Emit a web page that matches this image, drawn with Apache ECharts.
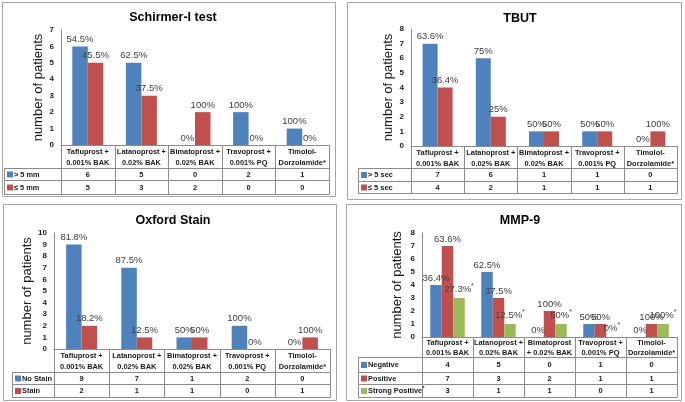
<!DOCTYPE html>
<html>
<head>
<meta charset="utf-8">
<script src="https://cdn.jsdelivr.net/npm/echarts@6/dist/echarts.min.js"></script>
<style>
html,body{margin:0;padding:0;background:#fff;}
#c{width:685px;height:402px;}
</style>
</head>
<body>
<div id="c"></div>
<script>
// ---------- DATA ----------
const categories = ['Tafluprost +\n0.001% BAK', 'Latanoprost +\n0.02% BAK', 'Bimatoprost +\n0.02% BAK', 'Travoprost +\n0.001% PQ', 'Timolol-\nDorzolamide*'];
const categoriesMMP = ['Tafluprost +\n0.001% BAK', 'Latanoprost +\n0.02% BAK', 'Bimatoprost\n+ 0.02% BAK', 'Travoprost +\n0.001% PQ', 'Timolol-\nDorzolamide*'];

const schirmerAbove = [6, 5, 0, 2, 1];
const schirmerBelow = [5, 3, 2, 0, 0];
const schirmerAbovePct = ['54.5%', '62.5%', '0%', '100%', '100%'];
const schirmerBelowPct = ['45.5%', '37.5%', '100%', '0%', '0%'];

const tbutAbove = [7, 6, 1, 1, 0];
const tbutBelow = [4, 2, 1, 1, 1];
const tbutAbovePct = ['63.6%', '75%', '50%', '50%', '0%'];
const tbutBelowPct = ['36.4%', '25%', '50%', '50%', '100%'];

const oxfordNoStain = [9, 7, 1, 2, 0];
const oxfordStain = [2, 1, 1, 0, 1];
const oxfordNoStainPct = ['81.8%', '87.5%', '50%', '100%', '0%'];
const oxfordStainPct = ['18.2%', '12.5%', '50%', '0%', '100%'];

const mmpNegative = [4, 5, 0, 1, 0];
const mmpPositive = [7, 3, 2, 1, 1];
const mmpStrong = [3, 1, 1, 0, 1];
const mmpNegativePct = ['36.4%', '62.5%', '0%', '50%', '0%'];
const mmpPositivePct = ['63.6%', '37.5%', '100%', '50%', '100%'];
const mmpStrongPct = ['27.3%', '12.5%', '50%', '0%', '100%'];

const yTicks1 = [0, 7, 1];
const yTicks2 = [0, 8, 1];
const yTicks3 = [0, 10, 1];
const yTicks4 = [0, 8, 1];

// ---------- STYLE / LAYOUT ----------
const BLUE = '#4F81BD', RED = '#C0504D', GREEN = '#9BBB59';
const FONT = '"Liberation Sans", Arial, sans-serif';
const LINE = '#8c8c8c';
const TFS = 7.4; // table font size

const panels = [
  { title: 'Schirmer-I test', titleXY: [168, 14], cats: categories, ticks: yTicks1,
    grid: { left: 61, top: 30, width: 268, height: 115 }, rows: [168, 180, 194], legendLeft: 4,
    box: [2, 2, 333, 194], barWidth: 15.5, nameGap: 16, headerLH: 11,
    series: [
      { name: '> 5 mm', data: schirmerAbove, pct: schirmerAbovePct, color: BLUE },
      { name: '\u2264 5 mm', data: schirmerBelow, pct: schirmerBelowPct, color: RED }
    ] },
  { title: 'TBUT', titleXY: [515, 15], cats: categories, ticks: yTicks2,
    grid: { left: 411, top: 29, width: 266, height: 117 }, rows: [168, 181, 193], legendLeft: 358,
    box: [347, 2, 334, 197], barWidth: 15, nameGap: 16, headerLH: 11,
    series: [
      { name: '> 5 sec', data: tbutAbove, pct: tbutAbovePct, color: BLUE },
      { name: '\u2264 5 sec', data: tbutBelow, pct: tbutBelowPct, color: RED }
    ] },
  { title: 'Oxford Stain', titleXY: [168, 217], cats: categories, ticks: yTicks3,
    grid: { left: 54, top: 233, width: 276, height: 116 }, rows: [372, 384, 397], legendLeft: 12,
    box: [3, 204, 333, 196], barWidth: 15.5, nameGap: 17, headerLH: 11,
    series: [
      { name: 'No Stain', data: oxfordNoStain, pct: oxfordNoStainPct, color: BLUE },
      { name: 'Stain', data: oxfordStain, pct: oxfordStainPct, color: RED }
    ] },
  { title: 'MMP-9', titleXY: [515, 217], cats: categoriesMMP, ticks: yTicks4,
    grid: { left: 422, top: 233, width: 255, height: 104 }, rows: [357, 372, 384, 397], legendLeft: 358,
    box: [346, 204, 335, 196], barWidth: 11.5, nameGap: 18, headerLH: 10,
    series: [
      { name: 'Negative', data: mmpNegative, pct: mmpNegativePct, color: BLUE },
      { name: 'Positive', data: mmpPositive, pct: mmpPositivePct, color: RED },
      { name: 'Strong Positive', data: mmpStrong, pct: mmpStrongPct, color: GREEN, star: true }
    ] }
];

const option = {
  animation: false,
  backgroundColor: '#fff',
  title: [], grid: [], xAxis: [], yAxis: [], series: [], graphic: []
};

panels.forEach((p, k) => {
  const g = p.grid;
  option.title.push({
    text: p.title, left: p.titleXY[0], top: p.titleXY[1] - 8, textAlign: 'center',
    textStyle: { fontFamily: FONT, fontSize: 12.5, fontWeight: 'bold', color: '#000' }
  });
  option.grid.push({ left: g.left, top: g.top, width: g.width, height: g.height, containLabel: false });
  option.xAxis.push({
    type: 'category', gridIndex: k, data: p.cats,
    axisLine: { show: true, lineStyle: { color: LINE, width: 1 } },
    axisTick: { show: false },
    axisLabel: { interval: 0, fontFamily: FONT, fontSize: TFS, fontWeight: 'bold', color: '#1a1a1a',
      lineHeight: p.headerLH, margin: 1, verticalAlign: 'top' }
  });
  option.yAxis.push({
    type: 'value', gridIndex: k, min: p.ticks[0], max: p.ticks[1], interval: p.ticks[2],
    name: 'number of patients', nameLocation: 'middle', nameGap: p.nameGap, nameRotate: 90,
    nameTextStyle: { fontFamily: FONT, fontSize: 13, color: '#1a1a1a' },
    axisLine: { show: true, lineStyle: { color: LINE, width: 1 } },
    axisTick: { show: false },
    splitLine: { show: false },
    axisLabel: { fontFamily: FONT, fontSize: 8, fontWeight: 'bold', color: '#1a1a1a', margin: 7 }
  });
  p.series.forEach((s) => {
    option.series.push({
      type: 'bar', name: s.name, xAxisIndex: k, yAxisIndex: k, data: s.data,
      barWidth: p.barWidth, barGap: '0%',
      itemStyle: { color: s.color },
      label: {
        show: true, position: 'top', distance: 2,
        fontFamily: FONT, fontSize: 9.5, color: '#404040',
        formatter: (prm) => s.star ? '{a|' + s.pct[prm.dataIndex] + '}{s|*}' : s.pct[prm.dataIndex],
        rich: { a: { fontFamily: FONT, fontSize: 9.5, color: '#404040' },
                s: { fontFamily: FONT, fontSize: 7, color: '#404040', verticalAlign: 'top', padding: [0, 0, 6, 0] } }
      }
    });
  });

  // ----- panel border -----
  option.graphic.push({ type: 'rect', shape: { x: p.box[0] + 0.5, y: p.box[1] + 0.5, width: p.box[2], height: p.box[3] },
    style: { fill: 'none', stroke: '#a6a6a6', lineWidth: 1 }, silent: true });

  // ----- table -----
  const x0 = g.left, x1 = g.left + g.width, yAxis0 = g.top + g.height;
  const n = p.cats.length, band = g.width / n;
  const bottom = p.rows[p.rows.length - 1];
  const headerBottom = p.rows[0];
  const lines = [];
  for (let i = 0; i <= n; i++) {
    const x = Math.round(x0 + i * band) + 0.5;
    lines.push([x, yAxis0, x, bottom]);
  }
  lines.push([p.legendLeft + 0.5, headerBottom, p.legendLeft + 0.5, bottom]);
  p.rows.forEach((y) => lines.push([p.legendLeft, y + 0.5, x1 + 0.5, y + 0.5]));
  lines.forEach((l) => option.graphic.push({ type: 'line', silent: true,
    shape: { x1: l[0], y1: l[1], x2: l[2], y2: l[3] }, style: { stroke: LINE, lineWidth: 1 } }));

  p.series.forEach((s, r) => {
    const yTop = p.rows[r], yBot = p.rows[r + 1];
    const yc = (yTop + yBot) / 2 + 0.5;
    option.graphic.push({ type: 'rect', silent: true,
      shape: { x: p.legendLeft + 3, y: yc - 3, width: 6, height: 6 }, style: { fill: s.color } });
    option.graphic.push({ type: 'text', silent: true,
      style: { x: p.legendLeft + 10, y: yc, text: s.star ? '{a|' + s.name + '}{s|*}' : s.name,
        verticalAlign: 'middle', align: 'left',
        font: 'bold ' + TFS + 'px ' + FONT, fill: '#1a1a1a',
        rich: s.star ? { a: { font: 'bold ' + TFS + 'px ' + FONT, fill: '#1a1a1a' },
                         s: { font: 'bold 6px ' + FONT, fill: '#1a1a1a', verticalAlign: 'top', padding: [0, 0, 5, 0] } } : undefined } });
    s.data.forEach((v, i) => {
      option.graphic.push({ type: 'text', silent: true,
        style: { x: x0 + (i + 0.5) * band, y: yc, text: String(v), align: 'center', verticalAlign: 'middle',
          font: 'bold ' + TFS + 'px ' + FONT, fill: '#1a1a1a' } });
    });
  });
});

const chart = echarts.init(document.getElementById('c'), null, { renderer: 'canvas' });
chart.setOption(option);
</script>
</body>
</html>
